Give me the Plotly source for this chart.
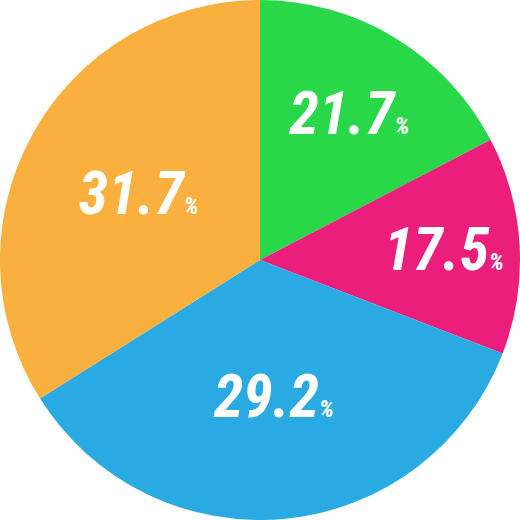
import plotly.graph_objects as go

labels = ["A", "B", "C", "D"]
slice_values = [17.35, 13.5, 35.2, 33.95]
label_text = ["21.7", "17.5", "29.2", "31.7"]
colors = ["#28d849", "#ec1e7b", "#2aaae2", "#f9b03e"]

fig = go.Figure(go.Pie(
    labels=labels,
    values=slice_values,
    text=label_text,
    sort=False,
    direction="clockwise",
    rotation=0,
    marker=dict(colors=colors, line=dict(width=0)),
    texttemplate="%{text}<span style='font-size:24px'>%</span>",
    textposition="inside",
    insidetextorientation="horizontal",
    textfont=dict(family="Roboto Condensed, Roboto, sans-serif", size=60, color="white", weight="bold", style="italic"),
    hoverinfo="skip",
    showlegend=False,
))
fig.update_layout(
    width=520, height=520,
    margin=dict(l=0, r=0, t=0, b=0),
    paper_bgcolor="white",
    plot_bgcolor="white",
    uniformtext=dict(minsize=60, mode="show"),
)
fig.write_html("out.html", config={"displayModeBar": False},
               post_script="document.body.style.margin='0';document.body.style.overflow='hidden';")
